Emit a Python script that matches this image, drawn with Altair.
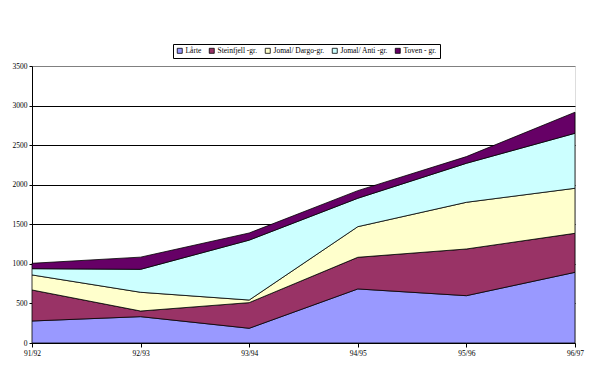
import altair as alt
import pandas as pd

seasons = ["91/92", "92/93", "93/94", "94/95", "95/96", "96/97"]
series = ["Lårte", "Steinfjell -gr.", "Jomal/ Dargo-gr.", "Jomal/ Anti -gr.", "Toven - gr."]
colors = ["#9999FF", "#993366", "#FFFFCC", "#CCFFFF", "#660066"]

lorte = [278, 333, 186, 683, 598, 893]
steinfjell = [392, 71, 324, 400, 590, 493]
dargo = [190, 237, 33, 387, 590, 569]
anti = [79, 290, 757, 359, 493, 695]
toven = [68, 154, 90, 96, 84, 266]

values = [lorte, steinfjell, dargo, anti, toven]
rows = []
for i, (name, vals) in enumerate(zip(series, values)):
    for s, v in zip(seasons, vals):
        rows.append({"season": s, "series": name, "value": v, "ord": i})
df = pd.DataFrame(rows)

font = "Liberation Serif"

chart = alt.Chart(df).mark_area(stroke="black", strokeWidth=0.8).encode(
    x=alt.X("season:N", sort=seasons, scale=alt.Scale(padding=0),
            axis=alt.Axis(title=None, labelAngle=0, labelFont=font, labelFontSize=7.5,
                          labelColor="black", domainColor="black", tickColor="black",
                          tickSize=4, labelPadding=2, grid=False)),
    y=alt.Y("value:Q", stack="zero", scale=alt.Scale(domain=[0, 3500], nice=False),
            axis=alt.Axis(title=None, values=[0, 500, 1000, 1500, 2000, 2500, 3000, 3500],
                          format="d",
                          labelFont=font, labelFontSize=7.5, labelColor="black",
                          domainColor="black", tickColor="black", tickSize=3,
                          labelPadding=2,
                          gridColor={"condition": {"test": "datum.value == 3500", "value": "#808080"},
                                     "value": "black"},
                          gridWidth=1)),
    color=alt.Color("series:N", sort=series,
                    scale=alt.Scale(domain=series, range=colors),
                    legend=alt.Legend(title=None, orient="none", direction="horizontal",
                                      legendX=141, legendY=-22,
                                      symbolType="square", symbolSize=25,
                                      symbolStrokeColor="black", symbolStrokeWidth=0.8,
                                      labelFont=font, labelFontSize=7.5, labelColor="black",
                                      columnPadding=5, symbolOffset=0, labelOffset=2,
                                      padding=3, strokeColor="black", fillColor="white")),
    order=alt.Order("ord:Q", sort="ascending"),
).properties(
    width=543, height=277,
    autosize=alt.AutoSizeParams(type="none"),
    padding={"left": 24, "top": 58, "right": 12, "bottom": 20},
).configure_view(
    stroke="#808080", strokeWidth=1
).configure(background="white")

chart.save("out.html", embed_options={"renderer": "svg", "actions": False})
